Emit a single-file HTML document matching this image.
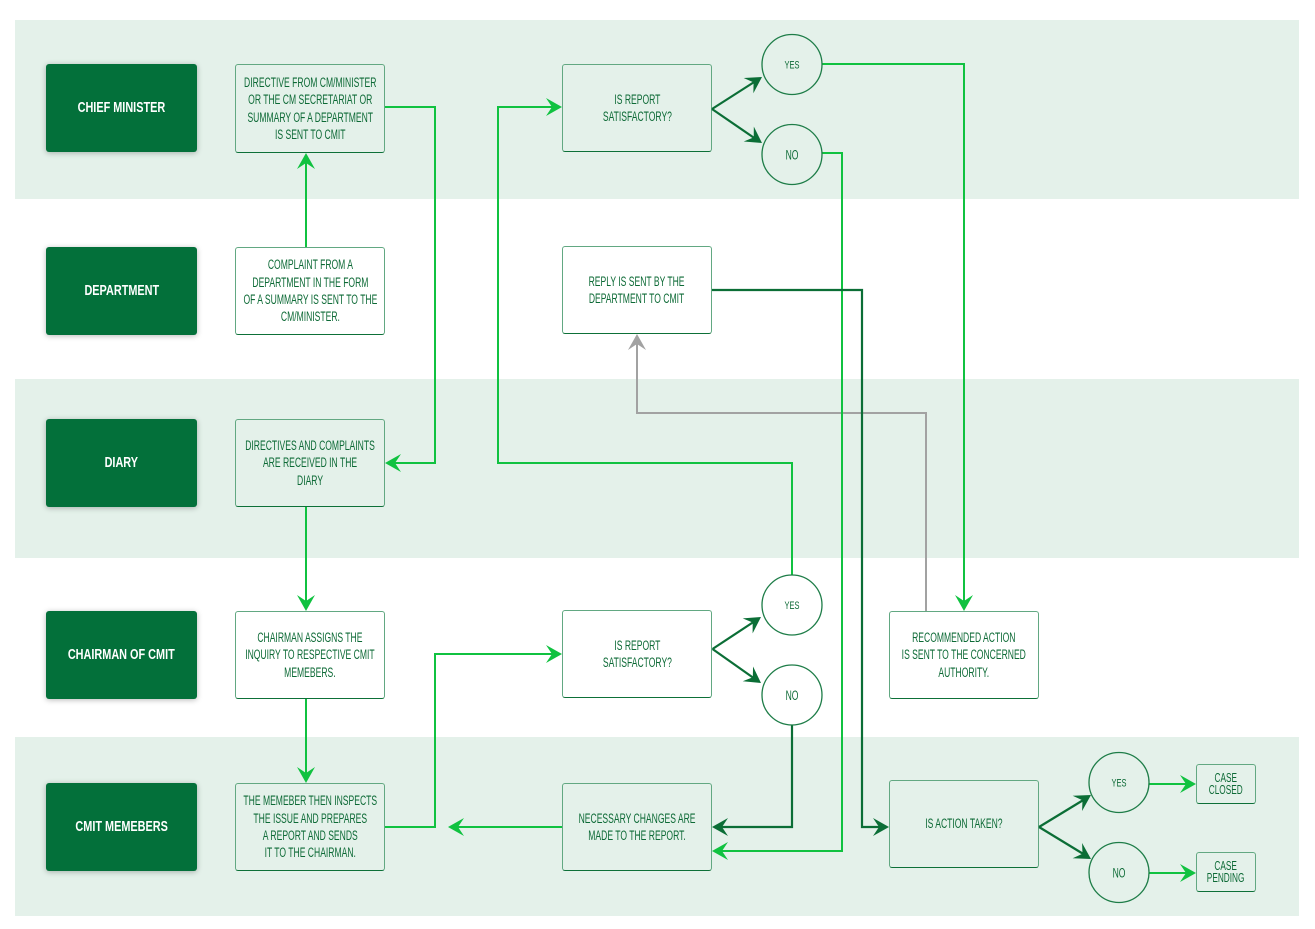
<!DOCTYPE html>
<html><head><meta charset="utf-8">
<style>
html,body{margin:0;padding:0;background:#fff;}
#c{position:relative;width:1315px;height:929px;overflow:hidden;background:#fff;}
.band{position:absolute;left:15px;width:1284px;height:179px;background:#e4f1ea;}
.lab{position:absolute;left:46px;width:151px;height:88px;background:#03703a;border-radius:3px;box-shadow:0 1px 6px rgba(0,0,0,.28);display:flex;align-items:center;justify-content:center;}
.lab span{display:inline-block;white-space:nowrap;color:#fff;font:bold 14.5px/16px "Liberation Sans",sans-serif;transform:scaleX(.75);}
.box{position:absolute;box-sizing:border-box;border:1.3px solid #62a882;border-bottom-color:#0d7038;border-radius:3px;display:flex;align-items:center;justify-content:center;text-align:center;}
.box.w{background:#fff;}
.box span{display:inline-block;white-space:nowrap;color:#0d6a36;font:13.5px/17.3px "Liberation Sans",sans-serif;transform:scaleX(.635);}
.box.sm span{font-size:13px;line-height:12.5px;}
svg{position:absolute;left:0;top:0;}
</style></head><body>
<div id="c">
<div class="band" style="top:20px"></div>
<div class="band" style="top:379px"></div>
<div class="band" style="top:737px"></div>

<div class="lab" style="top:64px"><span>CHIEF MINISTER</span></div>
<div class="lab" style="top:247px"><span>DEPARTMENT</span></div>
<div class="lab" style="top:419px"><span>DIARY</span></div>
<div class="lab" style="top:611px"><span>CHAIRMAN OF CMIT</span></div>
<div class="lab" style="top:783px"><span>CMIT MEMEBERS</span></div>

<div class="box" style="left:235px;top:64px;width:150px;height:89px"><span>DIRECTIVE FROM CM/MINISTER<br>OR THE CM SECRETARIAT OR<br>SUMMARY OF A DEPARTMENT<br>IS SENT TO CMIT</span></div>
<div class="box w" style="left:235px;top:247px;width:150px;height:88px"><span>COMPLAINT FROM A<br>DEPARTMENT IN THE FORM<br>OF A SUMMARY IS SENT TO THE<br>CM/MINISTER.</span></div>
<div class="box" style="left:235px;top:419px;width:150px;height:88px"><span>DIRECTIVES AND COMPLAINTS<br>ARE RECEIVED IN THE<br>DIARY</span></div>
<div class="box w" style="left:235px;top:611px;width:150px;height:88px"><span>CHAIRMAN ASSIGNS THE<br>INQUIRY TO RESPECTIVE CMIT<br>MEMEBERS.</span></div>
<div class="box" style="left:235px;top:783px;width:150px;height:88px"><span>THE MEMEBER THEN INSPECTS<br>THE ISSUE AND PREPARES<br>A REPORT AND SENDS<br>IT TO THE CHAIRMAN.</span></div>

<div class="box" style="left:562px;top:64px;width:150px;height:88px"><span>IS REPORT<br>SATISFACTORY?</span></div>
<div class="box w" style="left:562px;top:246px;width:150px;height:88px"><span>REPLY IS SENT BY THE<br>DEPARTMENT TO CMIT</span></div>
<div class="box w" style="left:562px;top:610px;width:150px;height:88px"><span>IS REPORT<br>SATISFACTORY?</span></div>
<div class="box" style="left:562px;top:783px;width:150px;height:88px"><span>NECESSARY CHANGES ARE<br>MADE TO THE REPORT.</span></div>

<div class="box w" style="left:889px;top:611px;width:150px;height:88px"><span>RECOMMENDED ACTION<br>IS SENT TO THE CONCERNED<br>AUTHORITY.</span></div>
<div class="box" style="left:889px;top:780px;width:150px;height:88px"><span>IS ACTION TAKEN?</span></div>
<div class="box sm" style="left:1196px;top:764px;width:60px;height:40px"><span>CASE<br>CLOSED</span></div>
<div class="box sm" style="left:1196px;top:852px;width:60px;height:40px"><span>CASE<br>PENDING</span></div>

<svg width="1315" height="929" viewBox="0 0 1315 929">
<defs>
<polygon id="ah" points="0,0 -16,-9 -10,0 -16,9"/>
</defs>
<!-- gray -->
<g fill="none" stroke="#a2a2a2" stroke-width="2">
<path d="M926,611 V413 H637 V344"/>
</g>
<use href="#ah" fill="#a2a2a2" transform="translate(637,334) rotate(-90)"/>

<!-- bright green -->
<g fill="none" stroke="#10c240" stroke-width="2">
<path d="M306,247 V160"/>
<path d="M385,107 H435 V463 H392"/>
<path d="M306,507 V604"/>
<path d="M306,699 V776"/>
<path d="M385,827 H435 V654 H555"/>
<path d="M562,827 H455"/>
<path d="M792,575 V463 H498 V107 H555"/>
<path d="M822,64 H964 V604"/>
<path d="M822,153 H842 V851 H719"/>
<path d="M1149,784 H1189"/>
<path d="M1149,873 H1189"/>
</g>
<g fill="#10c240">
<use href="#ah" transform="translate(306,153) rotate(-90)"/>
<use href="#ah" transform="translate(385,463) rotate(180)"/>
<use href="#ah" transform="translate(306,611) rotate(90)"/>
<use href="#ah" transform="translate(306,783) rotate(90)"/>
<use href="#ah" transform="translate(562,654)"/>
<use href="#ah" transform="translate(448,827) rotate(180)"/>
<use href="#ah" transform="translate(562,107)"/>
<use href="#ah" transform="translate(964,611) rotate(90)"/>
<use href="#ah" transform="translate(712,851) rotate(180)"/>
<use href="#ah" transform="translate(1196,784)"/>
<use href="#ah" transform="translate(1196,873)"/>
</g>

<!-- dark green -->
<g fill="none" stroke="#0b6e36" stroke-width="2.2">
<path d="M712,109 L755,81.5"/>
<path d="M712,109 L755,138.5"/>
<path d="M712.5,649 L755,621"/>
<path d="M712.5,649 L755,679"/>
<path d="M792,725 V827 H719"/>
<path d="M712,290 H862 V827 H882"/>
<path d="M1039,827 L1085,799"/>
<path d="M1039,827 L1085,855"/>
</g>
<g fill="#0b6e36">
<use href="#ah" transform="translate(762,77) rotate(-32.6)"/>
<use href="#ah" transform="translate(762,143) rotate(34.2)"/>
<use href="#ah" transform="translate(761,617) rotate(-33.5)"/>
<use href="#ah" transform="translate(761,683) rotate(35)"/>
<use href="#ah" transform="translate(712,827) rotate(180)"/>
<use href="#ah" transform="translate(889,827)"/>
<use href="#ah" transform="translate(1091,795) rotate(-31.6)"/>
<use href="#ah" transform="translate(1091,859) rotate(31.6)"/>
</g>

<!-- circles -->
<g fill="none" stroke="#1e7d48" stroke-width="1.3">
<circle cx="792" cy="64.5" r="30"/>
<circle cx="792" cy="154.5" r="30"/>
<circle cx="792" cy="605" r="30" fill="#fff"/>
<circle cx="792" cy="695" r="30" fill="#fff"/>
<circle cx="1119" cy="782.5" r="30"/>
<circle cx="1119" cy="872.5" r="30"/>
</g>
<g fill="#0d6a36" font-family="Liberation Sans, sans-serif" text-anchor="middle">
<text font-size="11" transform="translate(792,68.5) scale(.68,1)">YES</text>
<text font-size="13.5" transform="translate(792,159.5) scale(.635,1)">NO</text>
<text font-size="11" transform="translate(792,609) scale(.68,1)">YES</text>
<text font-size="13.5" transform="translate(792,700) scale(.635,1)">NO</text>
<text font-size="11" transform="translate(1119,786.5) scale(.68,1)">YES</text>
<text font-size="13.5" transform="translate(1119,877.5) scale(.635,1)">NO</text>
</g>
</svg>
</div>
</body></html>
